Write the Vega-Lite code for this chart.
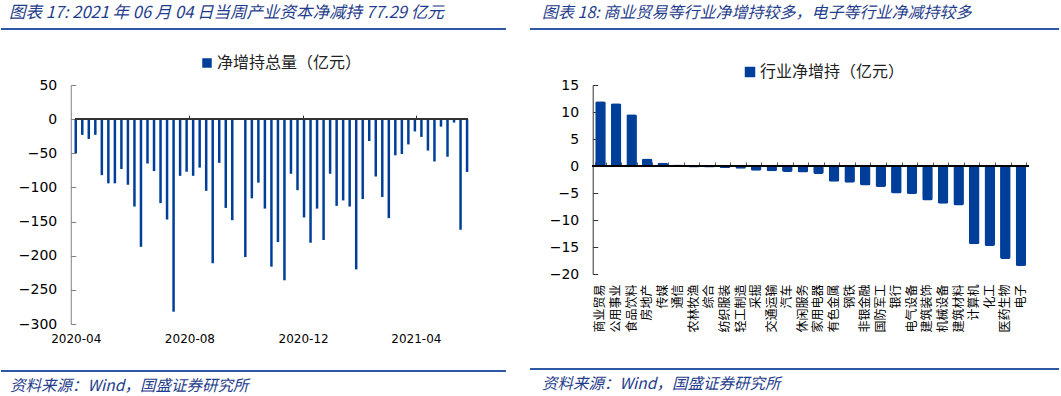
{
  "$schema": "https://vega.github.io/schema/vega-lite/v6.json",
  "padding": {"left": 1, "top": 4, "right": 0, "bottom": 0},
  "background": "white",
  "datasets": {
    "weekly": [
      {"date": "2020/04/10", "value": -50},
      {"date": "2020/04/17", "value": -23},
      {"date": "2020/04/24", "value": -29},
      {"date": "2020/05/01", "value": -23},
      {"date": "2020/05/08", "value": -82},
      {"date": "2020/05/15", "value": -94},
      {"date": "2020/05/22", "value": -94},
      {"date": "2020/05/29", "value": -73},
      {"date": "2020/06/05", "value": -96},
      {"date": "2020/06/12", "value": -128},
      {"date": "2020/06/19", "value": -187},
      {"date": "2020/06/26", "value": -65},
      {"date": "2020/07/03", "value": -76},
      {"date": "2020/07/10", "value": -123},
      {"date": "2020/07/17", "value": -147},
      {"date": "2020/07/24", "value": -282},
      {"date": "2020/07/31", "value": -83},
      {"date": "2020/08/07", "value": -77},
      {"date": "2020/08/14", "value": -83},
      {"date": "2020/08/21", "value": -71},
      {"date": "2020/08/28", "value": -105},
      {"date": "2020/09/04", "value": -211},
      {"date": "2020/09/11", "value": -64},
      {"date": "2020/09/18", "value": -130},
      {"date": "2020/09/25", "value": -148},
      {"date": "2020/10/09", "value": -202},
      {"date": "2020/10/16", "value": -116},
      {"date": "2020/10/23", "value": -93},
      {"date": "2020/10/30", "value": -131},
      {"date": "2020/11/06", "value": -216},
      {"date": "2020/11/13", "value": -180},
      {"date": "2020/11/20", "value": -236},
      {"date": "2020/11/27", "value": -80},
      {"date": "2020/12/04", "value": -104},
      {"date": "2020/12/11", "value": -144},
      {"date": "2020/12/18", "value": -181},
      {"date": "2020/12/25", "value": -131},
      {"date": "2021/01/01", "value": -177},
      {"date": "2021/01/08", "value": -80},
      {"date": "2021/01/15", "value": -127},
      {"date": "2021/01/22", "value": -119},
      {"date": "2021/01/29", "value": -128},
      {"date": "2021/02/05", "value": -220},
      {"date": "2021/02/12", "value": -117},
      {"date": "2021/02/19", "value": -32},
      {"date": "2021/02/26", "value": -84},
      {"date": "2021/03/05", "value": -114},
      {"date": "2021/03/12", "value": -145},
      {"date": "2021/03/19", "value": -53},
      {"date": "2021/03/26", "value": -51},
      {"date": "2021/04/02", "value": -37},
      {"date": "2021/04/09", "value": -18},
      {"date": "2021/04/16", "value": -26},
      {"date": "2021/04/23", "value": -46},
      {"date": "2021/04/30", "value": -62},
      {"date": "2021/05/07", "value": -11},
      {"date": "2021/05/14", "value": -55},
      {"date": "2021/05/21", "value": -5},
      {"date": "2021/05/28", "value": -162},
      {"date": "2021/06/04", "value": -77.29}
    ],
    "industry": [
      {"industry": "商业贸易", "value": 12.0},
      {"industry": "公用事业", "value": 11.6},
      {"industry": "食品饮料", "value": 9.6},
      {"industry": "房地产", "value": 1.4},
      {"industry": "传媒", "value": 0.6},
      {"industry": "通信", "value": 0.3},
      {"industry": "农林牧渔", "value": -0.3},
      {"industry": "综合", "value": -0.3},
      {"industry": "纺织服装", "value": -0.35},
      {"industry": "轻工制造", "value": -0.5},
      {"industry": "采掘", "value": -0.9},
      {"industry": "交通运输", "value": -0.95},
      {"industry": "汽车", "value": -1.1},
      {"industry": "休闲服务", "value": -1.2},
      {"industry": "家用电器", "value": -1.5},
      {"industry": "有色金属", "value": -2.9},
      {"industry": "钢铁", "value": -3.1},
      {"industry": "非银金融", "value": -3.6},
      {"industry": "国防军工", "value": -3.9},
      {"industry": "银行", "value": -5.1},
      {"industry": "电气设备", "value": -5.2},
      {"industry": "建筑装饰", "value": -6.4},
      {"industry": "机械设备", "value": -7.0},
      {"industry": "建筑材料", "value": -7.3},
      {"industry": "计算机", "value": -14.5},
      {"industry": "化工", "value": -14.8},
      {"industry": "医药生物", "value": -17.2},
      {"industry": "电子", "value": -18.5}
    ]
  },
  "spacing": 24,
  "resolve": {"scale": {"color": "independent", "x": "independent", "y": "independent"}, "legend": {"color": "independent"}},
  "hconcat": [
    {
      "spacing": 21,
      "resolve": {"scale": {"color": "independent"}, "legend": {"color": "independent"}},
      "vconcat": [
        {
          "width": 505, "height": 2,
          "data": {"values": [{}]},
          "mark": {"type": "text"},
          "encoding": {"text": {"value": ""}},
          "view": {"fill": "#2E57A5", "stroke": null},
          "title": {"text": "图表 17:  2021 年 06 月 04 日当周产业资本净减持 77.29 亿元", "anchor": "start", "dx": 8, "offset": 2, "fontSize": 16.5, "fontStyle": "italic", "fontWeight": "normal", "color": "#1F3D8C", "font": "Noto Sans CJK SC"}
        },
        {
          "width": 472, "height": 239,
          "data": {"name": "weekly"},
          "resolve": {"axis": {"x": "independent"}},
          "layer": [
            {
              "mark": {"type": "bar", "size": 2.5},
              "encoding": {
                "x": {"field": "date", "type": "temporal",
                  "scale": {"domain": [{"year": 2020, "month": 4, "date": 10}, {"year": 2021, "month": 6, "date": 5}], "nice": false, "rangeMin": 69.75},
                  "axis": {"orient": "bottom", "title": null, "grid": false, "domain": false, "ticks": false, "labelPadding": 9, "format": "%Y-%m", "labelFont": "DejaVu Sans", "labelFontSize": 12, "labelColor": "#000", "labelFlush": false, "labelOverlap": false,
                    "values": [{"year": 2020, "month": 4, "date": 10}, {"year": 2020, "month": 8, "date": 10}, {"year": 2020, "month": 12, "date": 10}, {"year": 2021, "month": 4, "date": 10}]}},
                "y": {"field": "value", "type": "quantitative",
                  "scale": {"domain": [-300, 50], "nice": false, "zero": false},
                  "axis": {"title": null, "grid": false, "values": [-300, -250, -200, -150, -100, -50, 0, 50], "offset": -69.75, "tickSize": -5, "labelPadding": 19, "labelOverlap": false, "domainColor": "#808080", "tickColor": "#808080", "labelFont": "DejaVu Sans", "labelFontSize": 14, "labelColor": "#000", "minExtent": 0}},
                "color": {"datum": "净增持总量（亿元）", "type": "nominal", "scale": {"range": ["#003F99"]},
                  "legend": {"title": null, "orient": "none", "legendX": 198, "legendY": -30, "padding": 0, "symbolType": "square", "symbolSize": 90, "symbolStrokeWidth": 0, "labelOffset": 2, "labelFont": "Noto Sans CJK SC", "labelFontSize": 16, "labelColor": "#222"}}
              }
            },
            {
              "mark": {"type": "rule", "color": "#333", "strokeWidth": 1},
              "encoding": {
                "x": {"datum": {"year": 2020, "month": 4, "date": 10}, "type": "temporal",
                  "axis": {"orient": "top", "offset": -34.14, "title": null, "grid": false, "labels": false, "domain": false, "ticks": true, "tickSize": 4, "tickColor": "#333",
                    "values": [{"year": 2020, "month": 8, "date": 10}, {"year": 2020, "month": 12, "date": 10}, {"year": 2021, "month": 4, "date": 10}]}},
                "x2": {"datum": {"year": 2021, "month": 6, "date": 5}},
                "y": {"datum": 0, "type": "quantitative",
                  "axis": {"title": null, "grid": false, "values": [-300, -250, -200, -150, -100, -50, 0, 50], "offset": -69.75, "tickSize": -5, "labelPadding": 19, "labelOverlap": false, "domainColor": "#808080", "tickColor": "#808080", "labelFont": "DejaVu Sans", "labelFontSize": 14, "labelColor": "#000", "minExtent": 0}}
              }
            }
          ]
        },
        {
          "width": 505, "height": 2,
          "data": {"values": [{}]},
          "mark": {"type": "text"},
          "encoding": {"text": {"value": ""}},
          "view": {"fill": "#2E57A5", "stroke": null},
          "title": {"text": "资料来源：Wind，国盛证券研究所", "orient": "bottom", "anchor": "start", "dx": 9, "offset": 3, "fontSize": 15.5, "fontStyle": "italic", "fontWeight": "normal", "color": "#1F3D8C", "font": "Noto Sans CJK SC"}
        }
      ]
    },
    {
      "spacing": 30,
      "resolve": {"scale": {"color": "independent"}, "legend": {"color": "independent"}},
      "vconcat": [
        {
          "width": 529, "height": 2,
          "data": {"values": [{}]},
          "mark": {"type": "text"},
          "encoding": {"text": {"value": ""}},
          "view": {"fill": "#2E57A5", "stroke": null},
          "title": {"text": "图表 18:  商业贸易等行业净增持较多，电子等行业净减持较多", "anchor": "start", "dx": 12, "offset": 2, "fontSize": 16, "fontStyle": "italic", "fontWeight": "normal", "color": "#1F3D8C", "font": "Noto Sans CJK SC"}
        },
        {
          "width": 498.7, "height": 189,
          "data": {"name": "industry"},
          "resolve": {"axis": {"x": "independent"}},
          "layer": [
            {
              "mark": {"type": "bar", "cornerRadius": 2},
              "encoding": {
                "x": {"field": "industry", "type": "nominal", "sort": null,
                  "scale": {"domain": ["商业贸易", "公用事业", "食品饮料", "房地产", "传媒", "通信", "农林牧渔", "综合", "纺织服装", "轻工制造", "采掘", "交通运输", "汽车", "休闲服务", "家用电器", "有色金属", "钢铁", "非银金融", "国防军工", "银行", "电气设备", "建筑装饰", "机械设备", "建筑材料", "计算机", "化工", "医药生物", "电子"], "paddingInner": 0.32, "paddingOuter": 0.16, "rangeMin": 62.7},
                  "axis": {"orient": "bottom", "title": null, "grid": false, "domain": false, "ticks": false, "labelAngle": -90, "labelPadding": 10, "labelFont": "Noto Sans CJK SC", "labelFontSize": 12, "labelColor": "#000"}},
                "y": {"field": "value", "type": "quantitative",
                  "scale": {"domain": [-20, 15], "nice": false, "zero": false},
                  "axis": {"title": null, "grid": false, "values": [-20, -15, -10, -5, 0, 5, 10, 15], "offset": -62.7, "tickSize": -5, "labelPadding": 19, "labelOverlap": false, "domainColor": "#333", "tickColor": "#333", "labelFont": "DejaVu Sans", "labelFontSize": 14, "labelColor": "#000", "minExtent": 0}},
                "color": {"datum": "行业净增持（亿元）", "type": "nominal", "scale": {"range": ["#003F99"]},
                  "legend": {"title": null, "orient": "none", "legendX": 212, "legendY": -21, "padding": 0, "symbolType": "square", "symbolSize": 110, "symbolStrokeWidth": 0, "labelOffset": 2, "labelFont": "Noto Sans CJK SC", "labelFontSize": 16, "labelColor": "#222"}}
              }
            },
            {
              "mark": {"type": "rule", "color": "#000", "strokeWidth": 1},
              "encoding": {
                "x": {"datum": "商业贸易", "type": "nominal", "bandPosition": -0.236,
                  "axis": {"orient": "top", "offset": -81, "title": null, "grid": false, "labels": false, "domain": false, "ticks": true, "tickSize": 4, "tickColor": "#555", "tickBand": "extent"}},
                "x2": {"datum": "电子", "bandPosition": 1.236},
                "y": {"datum": 0, "type": "quantitative",
                  "axis": {"title": null, "grid": false, "values": [-20, -15, -10, -5, 0, 5, 10, 15], "offset": -62.7, "tickSize": -5, "labelPadding": 19, "labelOverlap": false, "domainColor": "#333", "tickColor": "#333", "labelFont": "DejaVu Sans", "labelFontSize": 14, "labelColor": "#000", "minExtent": 0}}
              }
            }
          ]
        },
        {
          "width": 529, "height": 2,
          "data": {"values": [{}]},
          "mark": {"type": "text"},
          "encoding": {"text": {"value": ""}},
          "view": {"fill": "#2E57A5", "stroke": null},
          "title": {"text": "资料来源：Wind，国盛证券研究所", "orient": "bottom", "anchor": "start", "dx": 12, "offset": 3, "fontSize": 15.5, "fontStyle": "italic", "fontWeight": "normal", "color": "#1F3D8C", "font": "Noto Sans CJK SC"}
        }
      ]
    }
  ],
  "config": {
    "view": {"stroke": null},
    "font": "Noto Sans CJK SC"
  }
}
